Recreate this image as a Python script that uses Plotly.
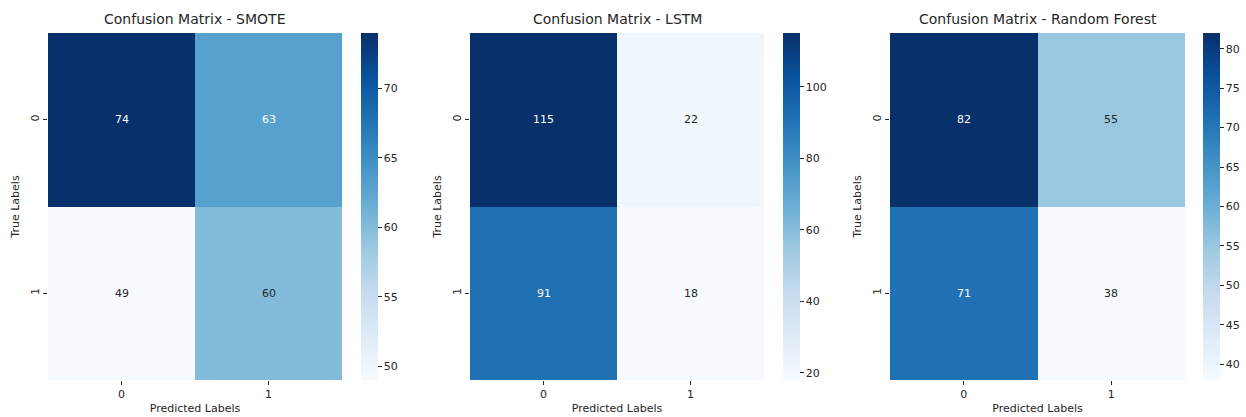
import plotly.graph_objects as go

# ---- data ----
models = ["SMOTE", "LSTM", "Random Forest"]
pred_labels = ["0", "1"]
true_labels = ["0", "1"]
cm_smote = [[74, 63], [49, 60]]
cm_lstm = [[115, 22], [91, 18]]
cm_rf = [[82, 55], [71, 38]]
matrices = [cm_smote, cm_lstm, cm_rf]
cbar_dticks = [5, 20, 5]

# ---- style ----
W, H = 1246, 417
ML, MR, MT, MB = 30, 30, 30, 30
PW, PH = W - ML - MR, H - MT - MB
blues = ["#f7fbff", "#deebf7", "#c6dbef", "#9ecae1", "#6baed6",
         "#4292c6", "#2171b5", "#08519c", "#08306b"]
colorscale = [[i / (len(blues) - 1), c] for i, c in enumerate(blues)]
TXT = "#262626"
FONT = "DejaVu Sans"

# pixel boxes of each heatmap (x0, x1) and colorbar left edge
heat_x = [(48, 342), (470, 764), (890, 1185)]
cbar_x = [361, 783, 1203]
y_top, y_bot = 33, 380


def fx(px):
    return (px - ML) / PW


def fy(py):
    return 1 - (py - MT) / PH


def hex2rgb(h):
    h = h.lstrip("#")
    return [int(h[i:i + 2], 16) / 255 for i in (0, 2, 4)]


def interp_color(t):
    t = min(max(t, 0), 1)
    n = len(blues) - 1
    i = min(int(t * n), n - 1)
    f = t * n - i
    a, b = hex2rgb(blues[i]), hex2rgb(blues[i + 1])
    return [a[k] + (b[k] - a[k]) * f for k in range(3)]


def luminance(rgb):
    lin = [c / 12.92 if c <= 0.03928 else ((c + 0.055) / 1.055) ** 2.4 for c in rgb]
    return 0.2126 * lin[0] + 0.7152 * lin[1] + 0.0722 * lin[2]


fig = go.Figure()
annotations = []
ydom = [fy(y_bot), fy(y_top)]

for k, (name, z) in enumerate(zip(models, matrices)):
    xa = "x" if k == 0 else f"x{k + 1}"
    ya = "y" if k == 0 else f"y{k + 1}"
    flat = [v for row in z for v in row]
    zmin, zmax = min(flat), max(flat)
    dt = cbar_dticks[k]
    first = (zmin // dt + (1 if zmin % dt else 0)) * dt
    tv = list(range(int(first), int(zmax) + 1, dt))
    fig.add_trace(go.Heatmap(
        z=z, x=pred_labels, y=true_labels, xaxis=xa, yaxis=ya,
        colorscale=colorscale, zmin=zmin, zmax=zmax, hoverongaps=False,
        colorbar=dict(
            x=fx(cbar_x[k]), xanchor="left",
            y=ydom[0], yanchor="bottom",
            len=ydom[1] - ydom[0],
            thickness=17, outlinewidth=0, xpad=0, ypad=0,
            tickvals=tv, ticks="outside", ticklen=4, tickcolor=TXT,
            tickfont=dict(family=FONT, size=11, color=TXT),
        ),
    ))
    # cell annotations
    for i, tl in enumerate(true_labels):
        for j, pl in enumerate(pred_labels):
            v = z[i][j]
            rgb = interp_color((v - zmin) / (zmax - zmin))
            col = TXT if luminance(rgb) > 0.408 else "white"
            annotations.append(dict(
                x=pl, y=tl, xref=xa, yref=ya, text=str(v), showarrow=False,
                font=dict(family=FONT, size=11, color=col)))
    # title
    annotations.append(dict(
        x=0.5, y=1, xref=f"{xa} domain", yref=f"{ya} domain",
        yanchor="bottom", yshift=4, text=f"Confusion Matrix - {name}",
        showarrow=False, font=dict(family=FONT, size=14, color=TXT)))

    axkey = "xaxis" if k == 0 else f"xaxis{k + 1}"
    aykey = "yaxis" if k == 0 else f"yaxis{k + 1}"
    x0, x1 = heat_x[k]
    fig.update_layout({
        axkey: dict(
            domain=[fx(x0), fx(x1)], anchor=ya, type="category",
            showgrid=False, zeroline=False, showline=False,
            ticks="outside", ticklen=4, tickcolor=TXT,
            tickfont=dict(family=FONT, size=11, color=TXT),
            title=dict(text="Predicted Labels", standoff=4,
                       font=dict(family=FONT, size=11, color=TXT)),
        ),
        aykey: dict(
            domain=ydom, anchor=xa, type="category", autorange="reversed",
            showgrid=False, zeroline=False, showline=False,
            ticks="outside", ticklen=4, tickcolor=TXT, tickangle=-90,
            tickfont=dict(family=FONT, size=11, color=TXT),
            title=dict(text="True Labels", standoff=6,
                       font=dict(family=FONT, size=11, color=TXT)),
        ),
    })

fig.update_layout(
    width=W, height=H, autosize=False,
    margin=dict(l=ML, r=MR, t=MT, b=MB, autoexpand=False),
    paper_bgcolor="white", plot_bgcolor="white",
    annotations=annotations,
)

fig.write_html(
    "out.html",
    config={"displayModeBar": False},
    post_script="document.body.style.margin='0';document.body.style.padding='0';",
)
